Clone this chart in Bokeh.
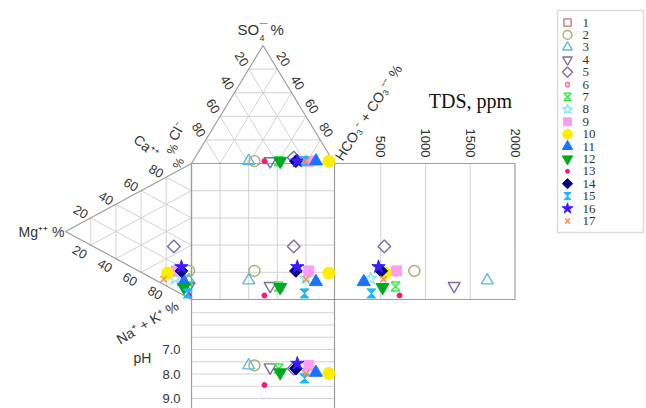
import numpy as np
from bokeh.plotting import figure
from bokeh.models import Range1d, Label, BoxAnnotation
from bokeh.core.properties import value
from bokeh.embed import file_html
from bokeh.resources import INLINE

nan = np.nan

# ---------------- data ----------------
samples = [str(i) for i in range(1, 18)]
# cations, % of meq
ca_pct = [nan, 20, 13, 9, 32, nan, 8, 9, 15, 10, 10, 6, 2, 17, 3, 20, 4]
mg_pct = [nan, 2, 2, 2, 14, nan, 3, 13, 12, 19, 6, 6, 2, 8, 3, 8, 22]
na_pct = [nan, 78, 85, 89, 54, nan, 89, 78, 73, 71, 84, 88, 96, 75, 94, 72, 74]
# anions, % of meq
cl_pct = [nan, 55, 59, 44, 26, nan, 38, 19, 17, 3, 12, 37, 48, 26, 20, 25, 19]
so4_pct = [nan, 2, 2, 2, 5, nan, 2, 2, 2, 2, 2, 2, 2, 2, 2, 2, 2]
hco3_pct = [nan, 43, 39, 54, 69, nan, 60, 79, 81, 95, 86, 61, 50, 72, 78, 73, 79]
# total dissolved solids (ppm) and pH
tds_ppm = [nan, 875, 1690, 1320, 540, nan, 665, 385, 675, 550, 310, 520, 710, 505, 395, 475, 530]
ph_val = [nan, 7.65, 7.65, 7.73, 7.78, nan, 7.78, 7.86, 7.65, 7.98, 7.94, 7.94, 8.45, 7.78, 8.18, 7.57, 7.98]

pct_ticks = [20, 40, 60, 80]
tds_ticks = [500, 1000, 1500, 2000]
ph_ticks = [7.0, 8.0, 9.0]
ph_grid = [5.5, 6.0, 6.5, 7.0, 7.5, 8.0, 8.5, 9.0, 9.5, 10.0]

# ---------------- layout (page pixels) ----------------
W, H = 646, 408


def Y(py):
    return H - py


L, R, T, B = 191.0, 334.0, 163.0, 299.0
TOP_APEX = (262.5, 45.0)
LEFT_APEX = (65.0, 231.0)
TDS_X0, TDS_X1, TDS_MAX = 335.5, 514.5, 2000.0
PH_Y0, PH_TOP, PH_PX = 300.0, 5.0, 24.5
PAGE_BOTTOM = 412.0

EDGE = "#9c9c9c"
GRID = "#d2d2d2"
TXT = "#333333"
SANS = "Liberation Sans"
SERIF = "Liberation Serif"

styles = [
    ("square", "#c87070", False, 9),
    ("circle", "#a3b06e", False, 11),
    ("triangle", "#5fb8d2", False, 12),
    ("inverted_triangle", "#7e6aa6", False, 12),
    ("diamond", "#7e6aa6", False, 9),
    ("circle", "#ff6a90", False, 5),
    ("hourglass", "#33ee44", False, 4.5),
    ("star", "#86e8ff", False, 13),
    ("square", "#ff9cf0", True, 10),
    ("circle", "#ffee00", True, 12),
    ("triangle", "#1a73ff", True, 13),
    ("inverted_triangle", "#00a820", True, 13),
    ("circle", "#ff1477", True, 5),
    ("diamond", "#000080", True, 9),
    ("hourglass", "#19b8ff", True, 4.5),
    ("star", "#3a1cff", True, 14),
    ("x", "#ff8a40", False, 9),
]

# ---------------- projections ----------------
ca = np.array(ca_pct, float) / 100
mg = np.array(mg_pct, float) / 100
na = np.array(na_pct, float) / 100
cl = np.array(cl_pct, float) / 100
so4 = np.array(so4_pct, float) / 100
hco3 = np.array(hco3_pct, float) / 100
tds = np.array(tds_ppm, float)
ph = np.array(ph_val, float)

top_x = L + (R - L) * (hco3 + so4 / 2)
top_y = T - (T - TOP_APEX[1]) * so4
left_x = L - (L - LEFT_APEX[0]) * mg
left_y = T + (B - T) * (na + mg / 2)
tds_x = TDS_X0 + (TDS_X1 - TDS_X0) * tds / TDS_MAX
ph_y = PH_Y0 + (ph - PH_TOP) * PH_PX

p = figure(width=W, height=H, x_range=Range1d(0, W), y_range=Range1d(0, H),
           output_backend="svg", toolbar_location=None, min_border=0,
           x_axis_type=None, y_axis_type=None)
p.grid.visible = False
p.outline_line_color = None
p.background_fill_color = "white"
p.border_fill_color = "white"


def tern(w, A, Bc, C):
    a, b, c = w
    return (a * A[0] + b * Bc[0] + c * C[0], a * A[1] + b * Bc[1] + c * C[1])


gx, gy = [], []
for corners in [((L, T), (R, T), TOP_APEX), ((L, T), (L, B), LEFT_APEX)]:
    A, Bc, C = corners
    for k in [0.2, 0.4, 0.6, 0.8]:
        for w1, w2 in [((1 - k, 0, k), (0, 1 - k, k)),
                       ((k, 1 - k, 0), (k, 0, 1 - k)),
                       ((1 - k, k, 0), (0, k, 1 - k))]:
            p1, p2 = tern(w1, A, Bc, C), tern(w2, A, Bc, C)
            gx.append([p1[0], p2[0]])
            gy.append([Y(p1[1]), Y(p2[1])])
for k in [0.2, 0.4, 0.6, 0.8]:
    xx = L + (R - L) * k
    gx.append([xx, xx]); gy.append([Y(T), Y(B)])
    yy = T + (B - T) * k
    gx.append([L, R]); gy.append([Y(yy), Y(yy)])
for t in tds_ticks[:-1]:
    xx = TDS_X0 + (TDS_X1 - TDS_X0) * t / TDS_MAX
    gx.append([xx, xx]); gy.append([Y(T), Y(B)])
for v in ph_grid:
    yy = PH_Y0 + (v - PH_TOP) * PH_PX
    gx.append([L, R]); gy.append([Y(yy), Y(yy)])
p.multi_line(gx, gy, line_color=GRID, line_width=1)

ex = [[L, R, TOP_APEX[0], L], [L, LEFT_APEX[0], L, L], [L, TDS_X1, TDS_X1, L, L],
      [L, L], [R, R], [R, R]]
ey = [[Y(T), Y(T), Y(TOP_APEX[1]), Y(T)], [Y(T), Y(LEFT_APEX[1]), Y(B), Y(T)],
      [Y(T), Y(T), Y(B), Y(B), Y(T)], [Y(B), Y(PAGE_BOTTOM)], [Y(B), Y(PAGE_BOTTOM)],
      [Y(T), Y(B)]]
p.multi_line(ex, ey, line_color=EDGE, line_width=1.2)


def hourglass(xs, ys, s):
    px, py = [], []
    for x, y in zip(xs, ys):
        if np.isnan(x) or np.isnan(y):
            continue
        px.append([x - s, x + s, x - s, x + s])
        py.append([y + s, y + s, y - s, y - s])
    return px, py


def draw(xs, ys, st, scale=1.0):
    marker, color, filled, size = st
    xs = np.asarray(xs, float)
    ys = np.asarray(ys, float)
    if marker == "hourglass":
        hx, hy = hourglass(xs, ys, size * scale)
        if not hx:
            return
        if filled:
            p.patches(hx, hy, fill_color=color, line_color=color, line_width=1)
        else:
            p.patches(hx, hy, fill_color=None, line_color=color, line_width=1.5)
        return
    angle = 0.0
    m = marker
    sz = size * scale
    if marker == "diamond":
        m, angle = "square", np.pi / 4
    p.scatter(xs, ys, marker=m, size=sz, angle=angle,
              fill_color=color if filled else None,
              line_color=color, line_width=1.0 if filled else 1.4)


for i in range(17):
    xs = [top_x[i], left_x[i], top_x[i], tds_x[i], top_x[i]]
    ys = [Y(top_y[i]), Y(left_y[i]), Y(left_y[i]), Y(left_y[i]), Y(ph_y[i])]
    draw(xs, ys, styles[i])

# ---------------- legend ----------------
LG_L, LG_R, LG_T, LG_B = 557, 643, 10, 232
LG_ROW0, LG_STEP = 22.0, 12.4
p.add_layout(BoxAnnotation(left=LG_L, right=LG_R, top=Y(LG_T), bottom=Y(LG_B),
                           fill_alpha=0, line_color="#8a8a8a", line_width=1.5))
for i in range(17):
    yy = Y(LG_ROW0 + LG_STEP * i)
    draw([LG_L + 10], [yy], styles[i], scale=0.8)
p.text(x=[LG_L + 25] * 17, y=[Y(LG_ROW0 + LG_STEP * i) for i in range(17)], text=samples,
       text_font=value(SERIF), text_font_size="13px", text_color=TXT,
       text_baseline="middle", text_align="left")


def lab(x, y, text, size="13px", angle=0.0, align="center", base="middle", font=SANS, color=TXT):
    p.add_layout(Label(x=x, y=Y(y), text=text, angle=angle, text_align=align,
                       text_baseline=base, text_font=font, text_font_size=size,
                       text_color=color))


# top triangle tick labels
for k in pct_ticks:
    t = k / 100
    lx = TOP_APEX[0] + t * (L - TOP_APEX[0])
    ly = TOP_APEX[1] + t * (T - TOP_APEX[1])
    lab(lx - 7, ly - 10, str(k), angle=np.radians(-58))
    rx = TOP_APEX[0] + t * (R - TOP_APEX[0])
    lab(rx + 6, ly - 10, str(k), angle=np.radians(-58))
# left triangle tick labels
for k in pct_ticks:
    t = k / 100
    ux = LEFT_APEX[0] + t * (L - LEFT_APEX[0])
    uy = LEFT_APEX[1] + t * (T - LEFT_APEX[1])
    lab(ux - 10, uy - 6, str(k), angle=np.radians(-30))
    dy = LEFT_APEX[1] + t * (B - LEFT_APEX[1])
    lab(ux - 11, dy + 7, str(k), angle=np.radians(-30))
# TDS ticks
for t in tds_ticks:
    xx = TDS_X0 + (TDS_X1 - TDS_X0) * t / TDS_MAX
    lab(xx, 157, str(t), angle=np.radians(-90), align="right")
# pH ticks
for v in ph_ticks:
    lab(180, PH_Y0 + (v - PH_TOP) * PH_PX, f"{v:.1f}", align="right")

# axis names
lab(237, 29, "SO", size="15px", align="left")
lab(259, 37, "4", size="9px", align="left")
lab(259, 22, "\u2013\u2013", size="7px", align="left")
lab(270, 29, "%", size="15px", align="left")
lab(368, 112, "HCO\u2083\u207b + CO\u2083\u207b\u207b %", size="14px", angle=np.radians(57))
lab(41, 231, "Mg\u207a\u207a %", size="14px")
lab(146, 146, "Ca\u207a\u207a", size="14px", angle=np.radians(-40))
lab(176, 131, "Cl\u207b", size="14px", angle=np.radians(60))
lab(172, 149, "%", size="12px", angle=np.radians(60))
lab(178, 163, "%", size="12px", angle=np.radians(60))
lab(147, 322, "Na\u207a + K\u207a %", size="14px", angle=np.radians(31))
lab(142, 357, "pH", size="14px")
lab(470, 100, "TDS, ppm", size="20px", font=SERIF, color="#111111")

open("out.html", "w").write(file_html(p, INLINE))
